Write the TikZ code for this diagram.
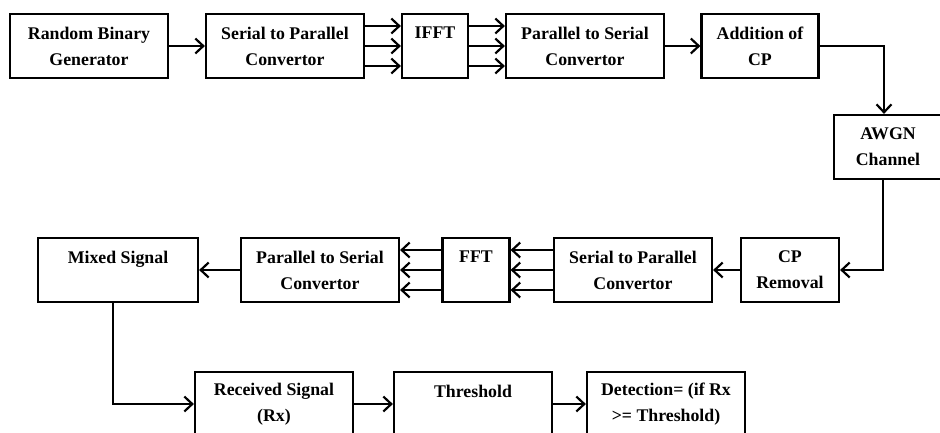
\documentclass[tikz,border=0pt]{standalone}
\usepackage{fontspec}
\setmainfont{Liberation Serif}
\usetikzlibrary{arrows.meta}

\begin{document}
\begin{tikzpicture}[x=1pt,y=-1pt,
  blk/.style={draw,line width=2.2pt,align=center,inner sep=0pt,
    minimum width=158pt,minimum height=64pt,
    font=\bfseries\fontsize{17.8}{26}\selectfont},
  flow/.style={line width=2.2pt,-{Straight Barb[length=8pt,width=15pt]}}
]
\useasboundingbox (0,0) rectangle (940,432);
\clip (0,0) rectangle (940,432);
%draw transmitter row
\node[blk] (rbg) at (89,46) {Random Binary\\Generator};
\node[blk] (stp) at (285,46) {Serial to Parallel\\Convertor};
\node[blk,minimum width=66pt] (ifft) at (435,46) {IFFT\\~};
\node[blk] (pts) at (585,46) {Parallel to Serial\\Convertor};
\node[blk,minimum width=117pt] (acp) at (760,46) {Addition of\\CP};
%draw channel
\node[blk,minimum width=108pt] (awgn) at (888,147) {AWGN\\Channel};
%draw receiver row
\node[blk,minimum width=98pt] (rcp) at (790,270) {CP\\Removal};
\node[blk] (stpr) at (633,270) {Serial to Parallel\\Convertor};
\node[blk,minimum width=67pt] (fft) at (476,270) {FFT\\~};
\node[blk] (ptsr) at (320,270) {Parallel to Serial\\Convertor};
\node[blk,minimum width=160pt] (mix) at (118,270) {Mixed Signal\\~};
%draw detection row
\node[blk] (rx) at (274,404) {Received Signal\\(Rx)};
\node[blk] (thr) at (473,404) {Threshold\\~};
\node[blk] (det) at (666,404) {Detection= (if Rx\\>= Threshold)};
%
\draw[flow] (rbg) -- (stp);
\draw[flow] ([yshift=20pt]stp.east) -- ([yshift=20pt]ifft.west);
\draw[flow] (stp.east) -- (ifft.west);
\draw[flow] ([yshift=-20pt]stp.east) -- ([yshift=-20pt]ifft.west);
\draw[flow] ([yshift=20pt]ifft.east) -- ([yshift=20pt]pts.west);
\draw[flow] (ifft.east) -- (pts.west);
\draw[flow] ([yshift=-20pt]ifft.east) -- ([yshift=-20pt]pts.west);
\draw[flow] (pts) -- (acp);
\draw[flow] (acp.east) -| ([xshift=-4pt]awgn.north);
\draw[flow] ([xshift=-5pt]awgn.south) |- (rcp.east);
\draw[flow] (rcp) -- (stpr);
\draw[flow] ([yshift=20pt]stpr.west) -- ([yshift=20pt]fft.east);
\draw[flow] (stpr.west) -- (fft.east);
\draw[flow] ([yshift=-20pt]stpr.west) -- ([yshift=-20pt]fft.east);
\draw[flow] ([yshift=20pt]fft.west) -- ([yshift=20pt]ptsr.east);
\draw[flow] (fft.west) -- (ptsr.east);
\draw[flow] ([yshift=-20pt]fft.west) -- ([yshift=-20pt]ptsr.east);
\draw[flow] (ptsr) -- (mix);
\draw[flow] ([xshift=-5pt]mix.south) |- (rx.west);
\draw[flow] (rx) -- (thr);
\draw[flow] (thr) -- (det);
\end{tikzpicture}
\end{document}
